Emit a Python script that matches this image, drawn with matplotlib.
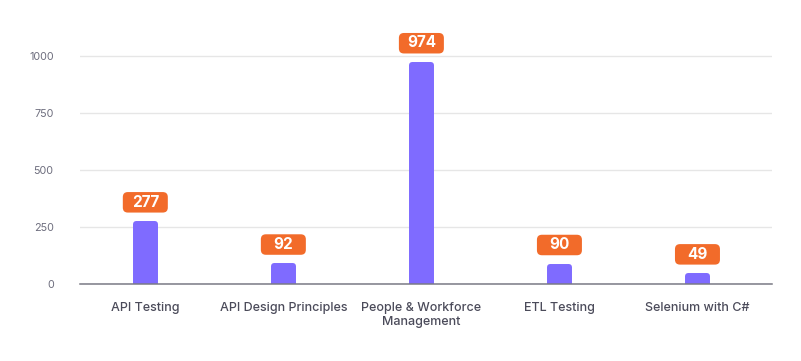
import matplotlib
matplotlib.use("Agg")
import matplotlib.pyplot as plt
import matplotlib.transforms as mtransforms
from matplotlib.patches import FancyBboxPatch

categories = ["API Testing", "API Design Principles", "People & Workforce\nManagement",
              "ETL Testing", "Selenium with C#"]
values = [277, 92, 974, 90, 49]
y_ticks = [0, 250, 500, 750, 1000]

bar_color = "#7F6BFF"
label_color = "#F26B2A"

plt.rcParams['font.family'] = ['Inter', 'DejaVu Sans']

fig = plt.figure(figsize=(8.01, 3.61), dpi=100)
ax = fig.add_axes([0.0999, 0.2125, 0.8639, 0.6955])

x = list(range(len(categories)))
# rounded bars: thin fill + thick round-joined edge of the same colour
bars = ax.bar(x, values, width=0.138, color=bar_color, edgecolor=bar_color,
              linewidth=4.3, joinstyle="round", zorder=3)
# shift down by half the edge width so the top sits on the value
shift = mtransforms.ScaledTranslation(0, -0.03, fig.dpi_scale_trans)
for b in bars:
    b.set_transform(ax.transData + shift)

ax.set_xlim(-0.473, 4.54)
ax.set_ylim(0, 1100)
ax.set_yticks(y_ticks)
ax.set_xticks(x)
ax.set_xticklabels(categories, fontsize=9, color="#4B4B5A", linespacing=1.2,
                   fontweight="medium")
ax.tick_params(axis="y", length=0, pad=19, labelsize=7.8, labelcolor="#6E6E7E")
ax.tick_params(axis="x", length=0, pad=13)

ax.grid(axis="y", color="#E6E6E6", linewidth=1, zorder=0)
for s in ["top", "right", "left"]:
    ax.spines[s].set_visible(False)
ax.spines["bottom"].set_color("#7A7A85")
ax.spines["bottom"].set_linewidth(1.1)
ax.spines["bottom"].set_zorder(4)

# value badges (fixed size, in inches, anchored at the bar top)
for xi, v in zip(x, values):
    tr = fig.dpi_scale_trans + mtransforms.ScaledTranslation(xi, v, ax.transData)
    box = FancyBboxPatch((-0.225, 0.085), 0.45, 0.205,
                         boxstyle="round,pad=0,rounding_size=0.05",
                         facecolor=label_color, edgecolor="none",
                         transform=tr, zorder=5, clip_on=False)
    ax.add_patch(box)
    ax.annotate(str(v), xy=(xi, v), xytext=(0, 19), textcoords="offset pixels",
                ha="center", va="center", color="white", fontsize=11,
                fontweight="bold", zorder=6)

fig.savefig("out.png", dpi=100)
